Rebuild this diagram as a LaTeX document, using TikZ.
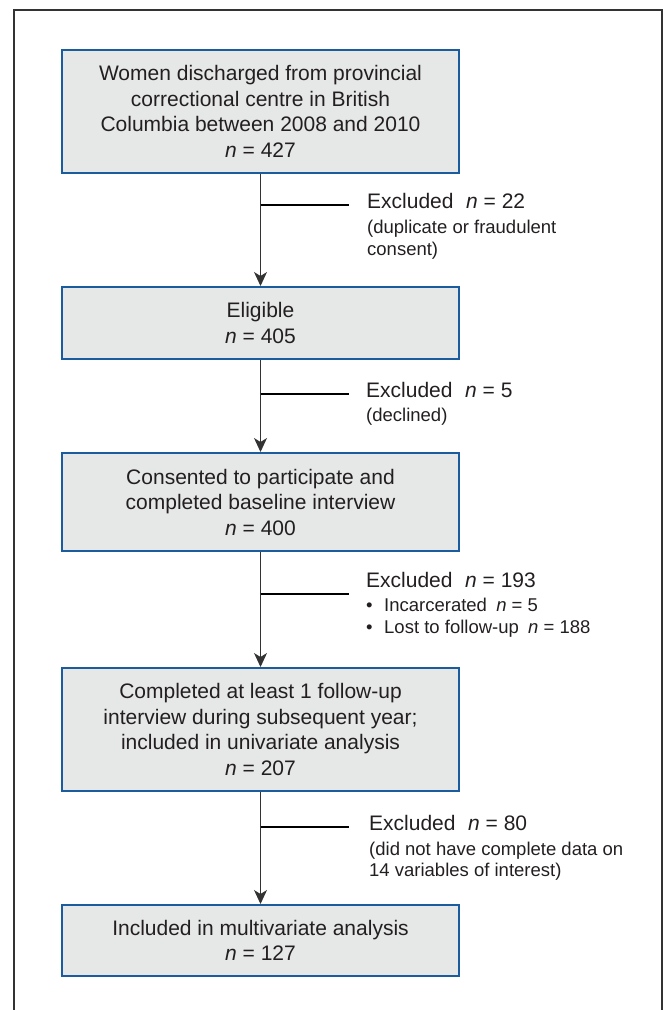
\documentclass[tikz,border=0pt]{standalone}
\usepackage{fontspec}
\setmainfont{Liberation Sans}
\usetikzlibrary{arrows.meta}
\definecolor{boxblue}{HTML}{1B5C9E}
\definecolor{boxfill}{HTML}{E6E7E7}
\definecolor{linegray}{HTML}{333333}
\definecolor{txt}{HTML}{231F20}
\begin{document}
\begin{tikzpicture}[x=1pt,y=-1pt,
  flowbox/.style={draw=boxblue, line width=2pt, fill=boxfill, minimum width=397pt,
    inner sep=0pt, align=center, text=txt, font=\fontsize{21}{25.5}\selectfont},
  flow/.style={draw=linegray, line width=1pt, -{Stealth[length=14pt,width=13pt,inset=4pt]}},
  branch/.style={draw=black, line width=1.8pt},
  bigtext/.style={anchor=west, inner sep=0pt, text=txt, text height=.72em, text depth=0pt,
    font=\fontsize{21}{25.5}\selectfont},
  smalltext/.style={anchor=west, inner sep=0pt, text=txt, text height=.72em, text depth=0pt,
    font=\fontsize{18.5}{22}\selectfont},
  frameline/.style={draw=linegray, line width=1.2pt}
]
\useasboundingbox (0,0) rectangle (668,1010);
\draw[frameline] (14,1012) -- (14,10) -- (662,10) -- (662,1012);

% boxes
\node[flowbox, minimum height=123pt] (b1) at (260.5,111.5)
  {Women discharged from provincial\\correctional centre in British\\Columbia between 2008 and 2010\\\textit{n} = 427};
\node[flowbox, minimum height=72pt] (b2) at (260.5,323)
  {Eligible\\\textit{n} = 405};
\node[flowbox, minimum height=98pt] (b3) at (260.5,502)
  {Consented to participate and\\completed baseline interview\\\textit{n} = 400};
\node[flowbox, minimum height=123pt] (b4) at (260.5,729.5)
  {Completed at least 1 follow-up\\interview during subsequent year;\\included in univariate analysis\\\textit{n} = 207};
\node[flowbox, minimum height=71pt] (b5) at (260.5,940.5)
  {Included in multivariate analysis\\\textit{n} = 127};

% main arrows
\draw[flow] (b1.south) -- (b2.north);
\draw[flow] (b2.south) -- (b3.north);
\draw[flow] (b3.south) -- (b4.north);
\draw[flow] (b4.south) -- (b5.north);

% branch junctions
\coordinate (j1) at (260.5,205);  \coordinate (k1) at (349,205);
\coordinate (j2) at (260.5,394);  \coordinate (k2) at (349,394);
\coordinate (j3) at (260.5,594);  \coordinate (k3) at (349,594);
\coordinate (j4) at (260.5,827);  \coordinate (k4) at (349,827);
\draw[branch] (j1) -- (k1);
\draw[branch] (j2) -- (k2);
\draw[branch] (j3) -- (k3);
\draw[branch] (j4) -- (k4);

% branch texts
\node[bigtext] (e1a) at (367,205) {Excluded\hspace{.6em}\textit{n} = 22};
\node[smalltext] (e1b) at (367,230) {(duplicate or fraudulent};
\node[smalltext] (e1c) at (367,252) {consent)};

\node[bigtext] (e2a) at (366,394) {Excluded\hspace{.6em}\textit{n} = 5};
\node[smalltext] (e2b) at (366,418) {(declined)};

\node[bigtext] (e3a) at (366,584) {Excluded\hspace{.6em}\textit{n} = 193};
\node[smalltext] (e3b) at (366,608) {•};
\node[smalltext] (e3c) at (384,608) {Incarcerated\hspace{.5em}\textit{n} = 5};
\node[smalltext] (e3d) at (366,630) {•};
\node[smalltext] (e3e) at (384,630) {Lost to follow-up\hspace{.5em}\textit{n} = 188};

\node[bigtext] (e4a) at (369,827) {Excluded\hspace{.6em}\textit{n} = 80};
\node[smalltext] (e4b) at (369,852) {(did not have complete data on};
\node[smalltext] (e4c) at (369,873) {14 variables of interest)};
\end{tikzpicture}
\end{document}
